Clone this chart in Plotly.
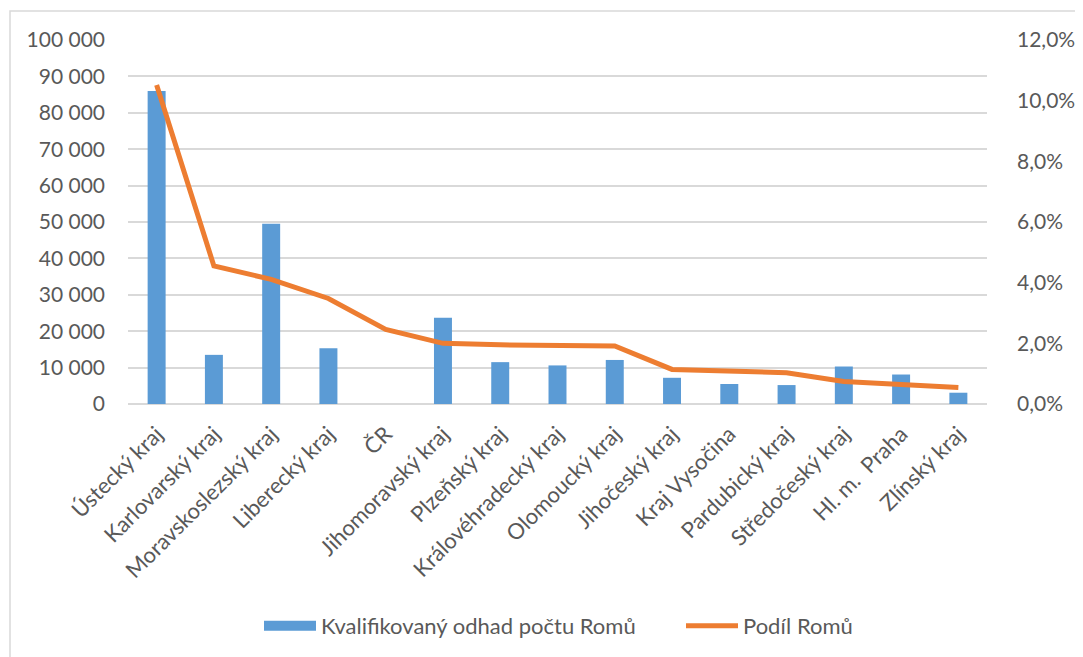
import plotly.graph_objects as go

categories = ["Ústecký kraj", "Karlovarský kraj", "Moravskoslezský kraj", "Liberecký kraj", "ČR",
              "Jihomoravský kraj", "Plzeňský kraj", "Královéhradecký kraj", "Olomoucký kraj",
              "Jihočeský kraj", "Kraj Vysočina", "Pardubický kraj", "Středočeský kraj",
              "Hl. m.  Praha", "Zlínský kraj"]
odhad_romu = [86000, 13500, 49500, 15300, None, 23700, 11500, 10600, 12100,
              7200, 5500, 5200, 10300, 8100, 3100]
podil_romu = [0.1052, 0.0455, 0.0411, 0.0348, 0.0246, 0.0200, 0.0195, 0.0193, 0.0191,
              0.0114, 0.0109, 0.0103, 0.0074, 0.0063, 0.0054]
left_ticks = [0, 10000, 20000, 30000, 40000, 50000, 60000, 70000, 80000, 90000, 100000]
right_ticks = [0, 0.02, 0.04, 0.06, 0.08, 0.10, 0.12]
series_names = ["Kvalifikovaný odhad počtu Romů", "Podíl Romů"]

# page body has an 8px margin; figure is sized/positioned to compensate
OFF = 8
W, H = 1083 - OFF, 657 - OFF
L, R, T, B = 128 - OFF, 96, 40 - OFF, 253
pw, ph = W - L - R, H - T - B

txt = "#595959"
blue = "#5B9BD5"
orange = "#ED7D31"
font_family = "Lato, 'Open Sans', sans-serif"


def px2x(p):  # page pixel -> paper x
    return (p - OFF - L) / pw


def px2y(p):  # page pixel -> paper y
    return (H - B - (p - OFF)) / ph


fig = go.Figure()
fig.add_trace(go.Bar(x=categories, y=odhad_romu, name=series_names[0],
                     marker=dict(color=blue, line=dict(width=0)), yaxis="y",
                     showlegend=False, legendgroup="a"))
fig.add_trace(go.Scatter(x=categories, y=podil_romu, name=series_names[1], mode="lines",
                         line=dict(color=orange, width=5), yaxis="y2",
                         showlegend=False, legendgroup="b"))
# legend entries
fig.add_trace(go.Scatter(x=[None], y=[None], name=series_names[0], mode="lines",
                         line=dict(color=blue, width=14), legendgroup="a"))
fig.add_trace(go.Scatter(x=[None], y=[None], name=series_names[1], mode="lines",
                         line=dict(color=orange, width=5), legendgroup="b", yaxis="y2"))

fig.update_layout(
    width=W, height=H,
    margin=dict(l=L, r=R, t=T, b=B, autoexpand=False),
    paper_bgcolor="white", plot_bgcolor="white",
    separators=", ",
    font=dict(family=font_family, size=21, color=txt),
    bargap=0.686,
    showlegend=True,
    legend=dict(orientation="h", x=px2x(681), xanchor="center", y=px2y(626), yanchor="middle",
                font=dict(size=22, color=txt), itemwidth=52, traceorder="normal",
                entrywidth=355, entrywidthmode="pixels"),
    xaxis=dict(tickangle=-45, showgrid=False, showline=False, ticks="",
               ticklabelstandoff=12, tickfont=dict(size=22, color=txt)),
    yaxis=dict(range=[0, 100000], tickvals=left_ticks, tickformat=",d",
               showgrid=True, gridcolor="#D9D9D9", gridwidth=1.5,
               zeroline=True, zerolinecolor="#D9D9D9", zerolinewidth=1.5,
               ticks="", ticklabelstandoff=22, tickfont=dict(size=21, color=txt)),
    yaxis2=dict(range=[0, 0.12], tickvals=right_ticks, tickformat=".1%",
                overlaying="y", side="right", showgrid=False, zeroline=False,
                ticks="", ticklabelstandoff=29, tickfont=dict(size=21, color=txt)),
    shapes=[dict(type="rect", xref="paper", yref="paper",
                 x0=px2x(10), x1=px2x(1100), y0=px2y(680), y1=px2y(11),
                 line=dict(color="#D9D9D9", width=1.5), fillcolor="rgba(0,0,0,0)", layer="below")],
)

fig.write_html("out.html")
